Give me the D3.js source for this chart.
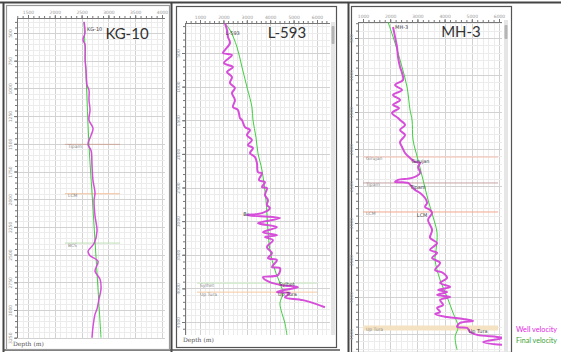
<!DOCTYPE html>
<html>
<head>
<meta charset="utf-8">
<script src="https://cdn.jsdelivr.net/npm/d3@7"></script>
<style>
  body { margin: 0; background: #fff; }
  svg { display: block; }
</style>
</head>
<body>
<svg width="561" height="352"></svg>
<script>
// ---- data: [depth (m), velocity (m/s)] ----
const kg10Well = [[400,2545],[500,2564],[560,2526],[605,2564],[742,2564],[833,2582],[969,2601],[1015,2638],
  [1105,2638],[1196,2657],[1287,2638],[1360,2713],[1424,2676],[1505,2620],[1560,2676],[1696,2694],[1833,2713],
  [1942,2750],[2014,2732],[2150,2750],[2287,2788],[2400,2732],[2470,2620],[2510,2657],[2560,2806],[2650,2750],
  [2720,2843],[2810,2862],[2900,2825],[2990,2788],[3040,2750],[3150,2713],[3250,2694]];
const kg10Final = [[400,2545],[900,2585],[1514,2638],[1950,2695],[2378,2750],[2800,2805],[3250,2862]];

const l593Well = [[60,2068],[158,2153],[262,2196],[351,2281],[455,2068],[500,1982],[530,2366],[649,2025],
  [708,2409],[783,2153],[857,2366],[946,2281],[1021,2495],[1095,2366],[1199,2495],[1304,2409],[1348,2623],
  [1467,2708],[1497,2793],[1601,2922],[1646,3135],[1720,3007],[1795,3220],[1869,3050],[1914,3263],[1988,3135],
  [2048,3349],[2137,3434],[2271,3477],[2286,3647],[2390,3519],[2420,3776],[2494,3647],[2509,3861],[2613,3776],
  [2687,3904],[2762,3861],[2806,3989],[2881,3647],[2911,3007],[2955,4416],[3030,3477],[3089,4288],[3164,3690],
  [3208,4288],[3238,3776],[3283,4117],[3387,3861],[3476,4074],[3550,3904],[3580,4288],[3684,4074],[3699,4416],
  [3803,4331],[3833,3690],[3908,3989],[3952,4501],[3982,5185],[4027,4544],[4056,4288],[4071,4843],[4131,4630],
  [4175,5398],[4280,6338]];
const l593Final = [[60,2068],[158,2281],[411,2580],[708,2793],[1006,3007],[1304,3220],[1497,3263],[1750,3391],
  [1988,3477],[2241,3647],[2687,3818],[3134,3904],[3431,3989],[3729,4203],[3922,4416],[4071,4544],[4220,4416],
  [4369,4501],[4518,4630],[4696,4715]];

const mh3Well = [[351,2104],[486,2178],[622,2251],[757,2288],[892,2362],[973,2435],[1067,2472],[1135,2178],
  [1203,2435],[1270,2104],[1338,2362],[1405,2104],[1446,2325],[1513,2068],[1581,2288],[1608,2362],[1675,2546],
  [1743,2362],[1810,2546],[1905,2362],[1973,2435],[2054,2546],[2121,2730],[2175,2914],[2185,3098],[2243,3024],
  [2324,3098],[2391,2803],[2418,2288],[2445,2178],[2450,2472],[2459,2656],[2513,2803],[2554,2914],[2594,3098],
  [2662,3282],[2729,3355],[2783,3282],[2824,3466],[2864,3539],[2959,3392],[3094,3539],[3202,3466],[3270,3723],
  [3364,3466],[3405,3723],[3472,3539],[3540,3834],[3634,3650],[3675,3944],[3742,4091],[3810,3834],[3864,4202],
  [3905,3760],[3932,4091],[3972,3723],[3999,4202],[4040,3834],[4107,3944],[4148,3723],[4202,3834],[4229,3650],
  [4270,4091],[4296,4680],[4323,5048],[4350,4570],[4404,4459],[4418,4827],[4472,4938],[4512,5195],[4539,5931],
  [4553,6152],[4607,5416],[4648,6152]];
const mh3Final = [[284,1920],[568,2178],[892,2435],[1162,2619],[1473,2730],[1608,2803],[1878,2840],[2148,3024],
  [2418,3208],[2689,3392],[2918,3576],[3134,3723],[3364,3686],[3499,3650],[3769,3834],[3999,4091],[4216,4312],
  [4404,4496],[4539,4386],[4715,4459]];

// formation tops
const kg10Tops = ['Tipam', 'LCM', 'BCS'];
const kg10TopDepths = [1505, 1951, 2396];
const kg10TopSpan = [2190, 3217];
const l593Tops = ['Sylhet', 'Up Tura'];
const l593TopDepths = [3922, 4056];
const l593TopSpan = [870, 6000];
const mh3Tops = ['Girujan', 'Tipam', 'LCM', 'Up Tura'];
const mh3TopDepths = [2108, 2459, 2851, 4418];
const mh3TopSpan = [1000, 5968];

// labels written beside the log: [text, depth, velocity]
const kg10Marks = [['KG-10', 480, 2600]];
const l593Marks = [['L-593', 230, 2100], ['Bc', 2925, 2850], ['Sylhet', 3965, 4380], ['Up Tura', 4110, 4330]];
const mh3Marks = [['MH-3', 380, 2180], ['Girujan', 2190, 2780], ['Tipam', 2540, 2740], ['LCM', 2920, 2980], ['Up Tura', 4480, 4880]];

// tick labels
const kg10VTicks = [1500, 2000, 2500, 3000, 3500, 4000];
const kg10DTicks = [500, 750, 1000, 1250, 1500, 1750, 2000, 2250, 2500, 2750, 3000, 3250];
const l593VTicks = [1000, 2000, 3000, 4000, 5000, 6000];
const l593DTicks = [500, 1000, 1500, 2000, 2500, 3000, 3500, 4000, 4500];
const mh3VTicks = [1000, 2000, 3000, 4000, 5000, 6000];
const mh3DTicks = [500, 1000, 1500, 2000, 2500, 3000, 3500, 4000, 4500];

const legendNames = ['Well velocity', 'Final velocity'];

// ---- layout ----
const panels = [
  { name: 'KG-10', well: kg10Well, final: kg10Final, tops: kg10Tops, topDepths: kg10TopDepths, topSpan: kg10TopSpan,
    topColors: ['#cfa89c', '#f3bf99', '#bfe0b6'], topWidth: [1, 1, 1], marks: kg10Marks,
    vTicks: kg10VTicks, dTicks: kg10DTicks, vStep: 100, dStep: 50,
    frame: [6, 5, 169, 349], frameCol: '#9a9a9a', plot: [17, 18, 165, 338],
    vDom: [1500, 4000], vRange: [28, 162], dDom: [500, 3000], dRange: [33, 310],
    title: [127, 39], depthLbl: [13, 346], wellW: 1.5, scroll: null },
  { name: 'L-593', well: l593Well, final: l593Final, tops: l593Tops, topDepths: l593TopDepths, topSpan: l593TopSpan,
    topColors: ['#c5e6bd', '#f6cba3'], topWidth: [1, 1], marks: l593Marks,
    vTicks: l593VTicks, dTicks: l593DTicks, vStep: 200, dStep: 100,
    frame: [176, 6, 336, 347], frameCol: '#555', plot: [185, 23, 330, 335],
    vDom: [1000, 6000], vRange: [200, 317], dDom: [500, 4500], dRange: [53, 322],
    title: [287, 38], depthLbl: [183, 342], wellW: 2, scroll: [331, 22, 335, 335, 26, 44] },
  { name: 'MH-3', well: mh3Well, final: mh3Final, tops: mh3Tops, topDepths: mh3TopDepths, topSpan: mh3TopSpan,
    topColors: ['#f2bcaa', '#c9a3a3', '#f2a98f', '#f4e2c2'], topWidth: [1, 1, 1, 5], marks: mh3Marks,
    vTicks: mh3VTicks, dTicks: mh3DTicks, vStep: 200, dStep: 100,
    frame: [351, 6, 511, 352], frameCol: '#555', plot: [358, 22, 502, 352],
    vDom: [1000, 6000], vRange: [363, 499], dDom: [500, 4500], dRange: [38, 334],
    title: [461, 37], depthLbl: null, wellW: 2, scroll: [504, 20, 508, 352, 25, 39] }
];

const svg = d3.select('svg');

// outer table lines
svg.append('line').attr('x1', 0).attr('x2', 561).attr('y1', 2.5).attr('y2', 2.5).attr('stroke', '#444').attr('stroke-width', 2);
[3.5, 171.5, 348.5].forEach(xx => {
  svg.append('line').attr('x1', xx).attr('x2', xx).attr('y1', 2).attr('y2', 352).attr('stroke', '#444').attr('stroke-width', 2);
});
svg.append('line').attr('x1', 3).attr('x2', 340).attr('y1', 350).attr('y2', 350).attr('stroke', '#555').attr('stroke-width', 1.5);

panels.forEach((p, pi) => {
  const g = svg.append('g');
  const x = d3.scaleLinear().domain(p.vDom).range(p.vRange);
  const y = d3.scaleLinear().domain(p.dDom).range(p.dRange);
  const [px0, py0, px1, py1] = p.plot;
  const [fx0, fy0, fx1, fy1] = p.frame;

  g.append('rect')
    .attr('x', fx0 + 0.5).attr('y', fy0 + 0.5)
    .attr('width', fx1 - fx0).attr('height', fy1 - fy0)
    .attr('fill', '#fff').attr('stroke', p.frameCol).attr('stroke-width', 1.2);

  // grid
  const vLo = x.invert(px0), vHi = x.invert(px1);
  const dLo = y.invert(py0), dHi = y.invert(py1);
  const vMinor = d3.range(Math.ceil(vLo / p.vStep) * p.vStep, vHi, p.vStep);
  const dMinor = d3.range(Math.ceil(dLo / p.dStep) * p.dStep, dHi, p.dStep);
  const vMajorStep = p.vTicks[1] - p.vTicks[0];
  const dMajorStep = p.dTicks[1] - p.dTicks[0];

  g.append('g').selectAll('line').data(vMinor).join('line')
    .attr('x1', d => Math.round(x(d)) + 0.5).attr('x2', d => Math.round(x(d)) + 0.5)
    .attr('y1', py0).attr('y2', py1)
    .attr('stroke', d => Math.abs(d % vMajorStep) < 1e-6 ? '#d2d2d2' : '#ececec').attr('stroke-width', 1);
  g.append('g').selectAll('line').data(dMinor).join('line')
    .attr('y1', d => Math.round(y(d)) + 0.5).attr('y2', d => Math.round(y(d)) + 0.5)
    .attr('x1', px0).attr('x2', px1)
    .attr('stroke', d => Math.abs(d % dMajorStep) < 1e-6 ? '#d2d2d2' : '#ececec').attr('stroke-width', 1);

  // axes
  const axTop = g.append('g').attr('transform', `translate(0,${py0})`)
    .call(d3.axisTop(x).tickValues(vMinor).tickSize(2).tickFormat(''));
  axTop.select('.domain').remove();
  const axTopMaj = g.append('g').attr('transform', `translate(0,${py0})`)
    .call(d3.axisTop(x).tickValues(p.vTicks).tickSize(3).tickPadding(1).tickFormat(d3.format('d')));
  axTopMaj.select('.domain').remove();
  g.append('line').attr('x1', px0).attr('x2', px1).attr('y1', py0 + 0.5).attr('y2', py0 + 0.5).attr('stroke', '#777');

  const axLeft = g.append('g').attr('transform', `translate(${px0},0)`)
    .call(d3.axisLeft(y).tickValues(dMinor).tickSize(2).tickFormat(''));
  axLeft.select('.domain').remove();
  const axLeftMaj = g.append('g').attr('transform', `translate(${px0},0)`)
    .call(d3.axisLeft(y).tickValues(p.dTicks).tickSize(3).tickFormat(d3.format('d')));
  axLeftMaj.select('.domain').remove();
  axLeftMaj.selectAll('text')
    .attr('transform', 'rotate(-90)').attr('x', 0).attr('y', -5).attr('dy', 0)
    .style('text-anchor', 'middle');
  g.append('line').attr('x1', px0 + 0.5).attr('x2', px0 + 0.5).attr('y1', py0).attr('y2', py1).attr('stroke', '#777');

  g.selectAll('.tick line').attr('stroke', '#777');
  g.selectAll('.tick text').attr('fill', '#999').style('font', '4.5px "DejaVu Sans", sans-serif');

  if (p.scroll) {
    const [sx0, sy0, sx1, sy1, ty0, ty1] = p.scroll;
    g.append('rect').attr('x', sx0).attr('y', sy0).attr('width', sx1 - sx0).attr('height', sy1 - sy0).attr('fill', '#e6e6e6');
    g.append('rect').attr('x', sx0 + 0.5).attr('y', ty0).attr('width', sx1 - sx0 - 1).attr('height', ty1 - ty0).attr('fill', '#b5b5b5').attr('rx', 1);
  }

  // clip region
  g.append('clipPath').attr('id', 'clip' + pi)
    .append('rect').attr('x', px0).attr('y', py0).attr('width', px1 - px0).attr('height', py1 - py0);
  const inner = g.append('g').attr('clip-path', `url(#clip${pi})`);

  // formation tops
  p.topDepths.forEach((d, i) => {
    inner.append('line')
      .attr('x1', x(p.topSpan[0])).attr('x2', x(p.topSpan[1]))
      .attr('y1', y(d)).attr('y2', y(d))
      .attr('stroke', p.topColors[i]).attr('stroke-width', p.topWidth[i]);
    inner.append('text')
      .attr('x', x(p.topSpan[0]) + 3).attr('y', y(d) + 3.5)
      .attr('fill', '#8a8a8a').style('font', '4.5px "DejaVu Sans", sans-serif')
      .text(p.tops[i]);
  });

  const line = d3.line()
    .x(d => x(d[1])).y(d => y(d[0]))
    .curve(d3.curveCatmullRom.alpha(0.5));

  inner.append('path').datum(p.final)
    .attr('d', line).attr('fill', 'none').attr('stroke', '#3fcf3f').attr('stroke-width', 1);
  inner.append('path').datum(p.well)
    .attr('d', line).attr('fill', 'none').attr('stroke', '#d444d8').attr('stroke-width', p.wellW)
    .attr('stroke-opacity', 0.95);

  inner.selectAll('.mark').data(p.marks).join('text')
    .attr('class', 'mark')
    .attr('x', d => x(d[2])).attr('y', d => y(d[1]))
    .attr('fill', '#444').style('font', '5px "DejaVu Sans", sans-serif')
    .text(d => d[0]);

  // title
  g.append('text').attr('x', p.title[0]).attr('y', p.title[1])
    .attr('text-anchor', 'middle').attr('fill', '#333')
    .style('font', '15px Lato, "Open Sans", sans-serif')
    .text(p.name);

  if (p.depthLbl) {
    g.append('text').attr('x', p.depthLbl[0]).attr('y', p.depthLbl[1])
      .attr('fill', '#555').style('font', '6px "DejaVu Serif", serif')
      .text('Depth (m)');
  }
});

// legend
const legendColors = ['#e01fe0', '#3a9f3a'];
svg.append('g').selectAll('text').data(legendNames).join('text')
  .attr('x', 516).attr('y', (d, i) => 332 + i * 11)
  .attr('fill', (d, i) => legendColors[i])
  .attr('textLength', 41).attr('lengthAdjust', 'spacingAndGlyphs')
  .style('font', '8px Lato, "Open Sans", sans-serif')
  .text(d => d);
</script>
</body>
</html>
